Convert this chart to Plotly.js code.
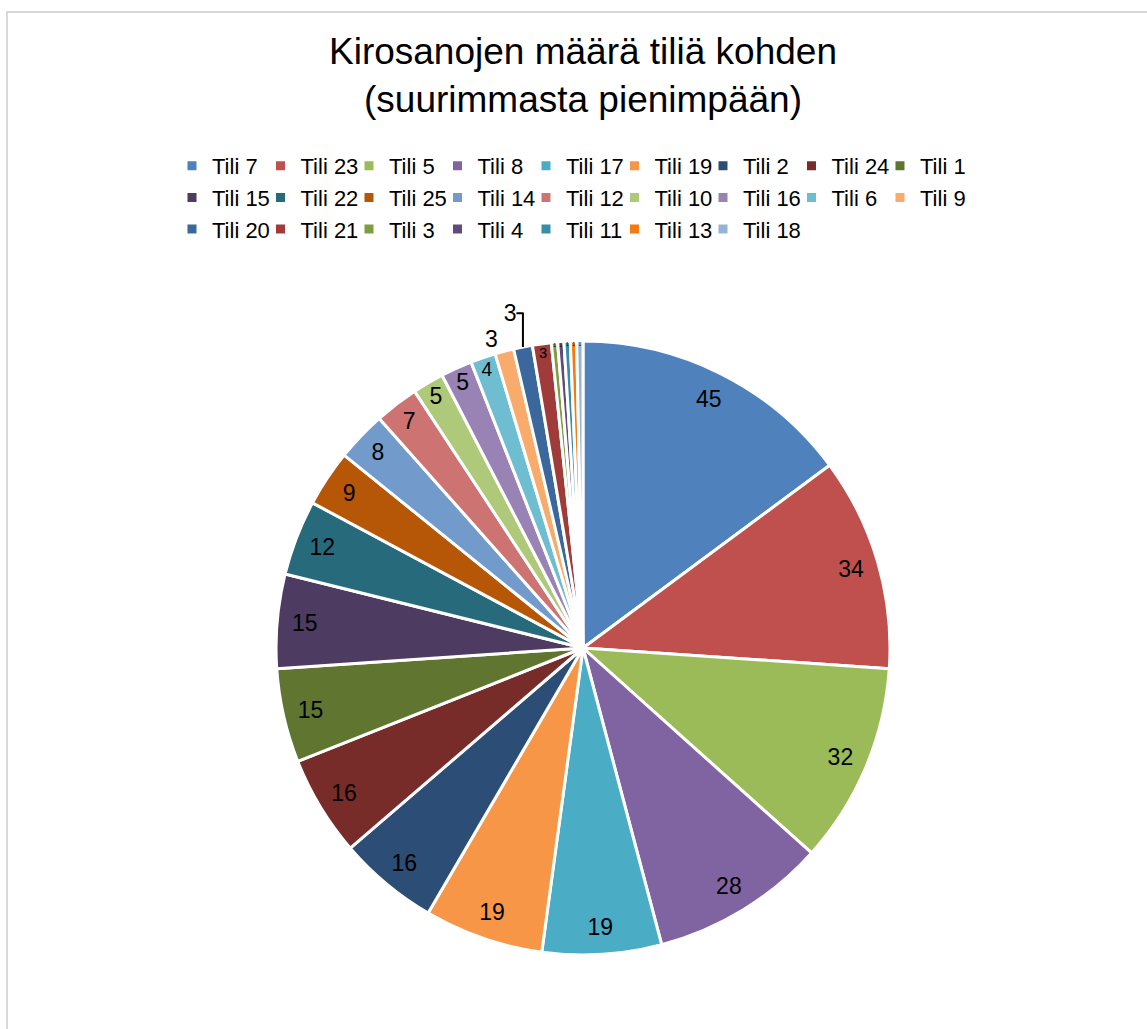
<!DOCTYPE html>
<html><head><meta charset="utf-8">
<script src="https://cdn.plot.ly/plotly-3.0.1.min.js"></script>
<style>
html,body{margin:0;padding:0;background:#fff;overflow:hidden}
#chart{position:absolute;left:0;top:0;width:1147px;height:1029px}
#frame{position:absolute;left:6px;top:11px;width:1400px;height:1300px;border:2px solid #d9d9d9;pointer-events:none}
</style></head><body>
<div id="chart"></div><div id="frame"></div>
<script>
const accounts = ["Tili 7","Tili 23","Tili 5","Tili 8","Tili 17","Tili 19","Tili 2","Tili 24","Tili 1",
  "Tili 15","Tili 22","Tili 25","Tili 14","Tili 12","Tili 10","Tili 16","Tili 6","Tili 9",
  "Tili 20","Tili 21","Tili 3","Tili 4","Tili 11","Tili 13","Tili 18"];
const swearCounts = [45,34,32,28,19,19,16,16,15,15,12,9,8,7,5,5,4,3,3,3,1,1,1,1,1];
const sliceColors = ["#4F81BD","#C0504D","#9BBB59","#8064A2","#4BACC6","#F79646","#2C4D75","#772C2A","#5F7530",
  "#4D3B62","#276A7C","#B65708","#729ACA","#CD7371","#AFC97A","#9983B5","#6FBDD1","#F9AB6B",
  "#3A679C","#9F3B38","#7E9D40","#604A7B","#358EA6","#F57A0F","#95B3D7"];
const outsideAccounts = ["Tili 9","Tili 20"];

const FONT = "Liberation Sans, Arial, sans-serif";
const pieDomain = {x: [0.1403, 0.8827], y: [0, 1]};

// visible pie: slices, borders and legend
const slices = {
  type: "pie",
  labels: accounts,
  values: swearCounts,
  sort: false,
  direction: "clockwise",
  rotation: 0,
  textinfo: "none",
  marker: {colors: sliceColors, line: {color: "#fff", width: 3}},
  domain: pieDomain,
  automargin: false,
  hoverinfo: "label+value"
};
// transparent ring on top carrying the data labels near the rim
const valueLabels = {
  type: "pie",
  labels: accounts,
  values: swearCounts,
  sort: false,
  direction: "clockwise",
  rotation: 0,
  hole: 0.82,
  showlegend: false,
  textinfo: "value",
  textposition: accounts.map(a => outsideAccounts.includes(a) ? "outside" : "inside"),
  insidetextorientation: "horizontal",
  textfont: {family: FONT, size: 23, color: "#000"},
  insidetextfont: {family: FONT, size: 23, color: "#000"},
  outsidetextfont: {family: FONT, size: 23, color: "#000"},
  marker: {colors: accounts.map(() => "rgba(0,0,0,0)"), line: {width: 0}},
  domain: pieDomain,
  automargin: false,
  hoverinfo: "skip"
};
const layout = {
  width: 1147, height: 1029,
  margin: {l: 160, r: 160, t: 341, b: 74, autoexpand: false},
  paper_bgcolor: "rgba(0,0,0,0)",
  plot_bgcolor: "rgba(0,0,0,0)",
  font: {family: FONT, color: "#000"},
  title: {
    text: "Kirosanojen määrä tiliä kohden<br>(suurimmasta pienimpään)",
    font: {family: FONT, size: 37, color: "#000"},
    xref: "container", yref: "container",
    x: 583/1147, xanchor: "center",
    y: 1 - 64/1029, yanchor: "top"
  },
  showlegend: true,
  legend: {
    orientation: "h",
    xref: "paper", x: 0.0145, xanchor: "left",
    yref: "container", y: 1 - 145/1029, yanchor: "top",
    entrywidth: 43.5,
    font: {family: FONT, size: 22, color: "#000"},
    traceorder: "normal"
  }
};
Plotly.newPlot("chart", [slices, valueLabels], layout, {displayModeBar: false, responsive: false});
</script>
</body></html>
